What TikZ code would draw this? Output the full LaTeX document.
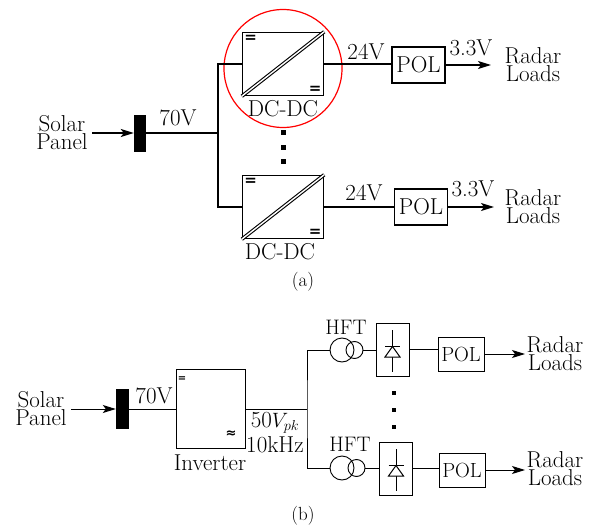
\documentclass[tikz,border=0pt]{standalone}
\usepackage{amssymb,amsmath}
\usepackage{fontspec}
\usepackage{tikz}
\usetikzlibrary{arrows.meta,calc}
\newfontfamily\signfont{DejaVu Sans}
\DeclareMathSizes{23}{20.74}{14.4}{10}
\tikzset{
  big/.style={font=\fontsize{23}{18}\selectfont,align=center,inner sep=0pt},
  mid/.style={font=\fontsize{21}{18}\selectfont,align=center,inner sep=0pt},
  subcap/.style={font=\fontsize{19}{19}\selectfont,inner sep=0pt},
  wire/.style={line width=1.5pt},
  thinwire/.style={line width=1pt},
  flow/.style={-{Stealth[length=13pt,width=8pt,inset=3pt]}},
  bus/.style={fill=black,draw=none,inner sep=0pt,minimum width=#1pt},
  dotmark/.style={fill=black,draw=none,inner sep=0pt,minimum size=#1pt},
  sign/.style={inner sep=0pt,font=\fontsize{#1}{#1}\selectfont\signfont\bfseries},
  conv/.style={draw,rectangle,inner sep=0pt,minimum width=81pt,minimum height=63pt,line width=1.5pt},
  pol/.style={draw,rectangle,inner sep=0pt,line width=1.3pt,minimum width=53pt,minimum height=36pt,font=\fontsize{23}{23}\selectfont},
  polsmall/.style={draw,rectangle,inner sep=0pt,line width=1pt,minimum width=46pt,minimum height=34pt,font=\fontsize{20.5}{20.5}\selectfont},
  recbox/.style={draw,rectangle,inner sep=0pt,line width=1pt,minimum width=33pt,minimum height=53pt},
  coil/.style={draw,circle,line width=0.9pt,inner sep=0pt,minimum size=#1pt},
}

\begin{document}
\begin{tikzpicture}[x=1pt,y=-1pt]
\useasboundingbox (0,0) rectangle (589,527);

% part a
\node[big] (solarA) at (62,133) {Solar\\Panel};
\node[bus=12,minimum height=37pt] (busA) at (140,133) {};
\node[big] (vA) at (178,118) {70V};
\coordinate (splitA) at (218,133);
\node[conv] (dcA) at (283,64) {};
\node[conv] (dcB) at (283,207) {};
\node[big] at (283,109) (dcAlabel) {DC-DC};
\node[big] at (280,252) (dcBlabel) {DC-DC};
\node[draw=red,circle,line width=1.2pt,minimum size=118pt,inner sep=0pt] (ring) at (283,68.5) {};

\foreach \n in {A,B}
         {
           \draw[line width=3.6pt] (dc\n.south west) -- (dc\n.north east);
           \draw[line width=1.4pt,white] (dc\n.south west) -- (dc\n.north east);
           \node[sign=15] (eq\n1) at ($(dc\n.north west)+(9,7)$) {=};
           \node[sign=15] (eq\n2) at ($(dc\n.south east)+(-9,-6.5)$) {=};
         }

\node[dotmark=5] (dotA1) at (283,132) {};
\node[dotmark=5] (dotA2) at (283,147) {};
\node[dotmark=5] (dotA3) at (283,161) {};

\node[pol] (polA) at (418.5,65) {POL};
\node[pol] (polB) at (421,207) {POL};
\node[big] (loadA) at (533,65) {Radar\\Loads};
\node[big] (loadB) at (533,207) {Radar\\Loads};
\node[big] (vA1) at (366,52) {24V};
\node[big] (vA2) at (471,48) {3.3V};
\node[big] (vB1) at (364,193) {24V};
\node[big] (vB2) at (473,189) {3.3V};
\node[subcap] (capA) at (303,282) {(a)};

\coordinate (inA) at (92,133);
\coordinate (endA) at (491,65);
\coordinate (endB) at (494,207);
\draw[wire,flow] (inA) -- (busA.west);
\draw[wire] (busA.east) -- (splitA);
\draw[wire] (dcA.west) -| (splitA) |- (dcB.west);
\draw[wire] (dcA.east) -- (dcA.east -| polA.west);
\draw[wire] (dcB.east) -- (dcB.east -| polB.west);
\draw[wire,flow] (polA.east) -- (endA);
\draw[wire,flow] (polB.east) -- (endB);

% part b
\node[big] (solarC) at (41,409) {Solar\\Panel};
\node[bus=13,minimum height=40pt] (busC) at (122.5,409) {};
\node[big] (vC) at (154,396) {70V};
\node[draw,rectangle,inner sep=0pt,line width=1pt,minimum width=69pt,minimum height=79pt] (inv) at (210.5,409) {};
\node[big] (invlabel) at (210,463) {Inverter};
\node[sign=10] (invdc) at (182,379) {=};
\node[sign=13] (invac) at (231,434) {≈};
\node[big] (vpk) at (275,423) {50$V_{pk}$};
\node[big] (freq) at (275,445) {10kHz};
\coordinate (splitC) at (307,409);

\node[coil=24] (hftA) at (342,350) {};
\node[coil=17] (hftB) at (354.5,350) {};
\node[coil=24] (hftC) at (342,468) {};
\node[coil=17] (hftD) at (356.5,468) {};
\node[mid] (hftlabelA) at (346,327) {HFT};
\node[mid] (hftlabelB) at (350,444) {HFT};

\node[recbox] (recA) at (392.5,349.5) {};
\node[recbox] (recB) at (396,468.5) {};
\foreach \n/\x/\y in {A/392.5/349.5,B/396/468.5}
         {
           \draw[line width=1pt] (\x,\y-19.5) -- (\x,\y+22.5);
           \draw[line width=1pt,fill=white] (\x,\y-3) -- (\x-7.5,\y+7.5) -- (\x+7.5,\y+7.5) -- cycle;
           \draw[line width=1pt] (\x-7.5,\y-3) -- (\x+7.5,\y-3);
         }

\node[dotmark=3.5] (dotC1) at (394,393) {};
\node[dotmark=3.5] (dotC2) at (394,410) {};
\node[dotmark=3.5] (dotC3) at (394,427) {};

\node[polsmall] (polC) at (461,354) {POL};
\node[polsmall] (polD) at (462,470) {POL};
\node[big] (loadC) at (555,354) {Radar\\Loads};
\node[big] (loadD) at (555,469) {Radar\\Loads};
\node[subcap] (capB) at (303,516) {(b)};

\coordinate (inC) at (71,409);
\coordinate (endC) at (525,354);
\coordinate (endD) at (525,470);
\draw[thinwire,flow] (inC) -- (busC.west);
\draw[thinwire] (busC.east) -- (inv.west);
\draw[thinwire] (inv.east) -- (splitC);
\draw[thinwire] (hftA.west) -| (splitC) |- (hftC.west);
\draw[thinwire] (hftB.east) -- (recA.west |- hftB.east);
\draw[thinwire] (hftD.east) -- (recB.west |- hftD.east);
\draw[thinwire] (recA.east) -- (recA.east -| polC.west);
\draw[thinwire] (recB.east) -- (recB.east -| polD.west);
\draw[thinwire,flow] (polC.east) -- (endC);
\draw[thinwire,flow] (polD.east) -- (endD);
\end{tikzpicture}
\end{document}
